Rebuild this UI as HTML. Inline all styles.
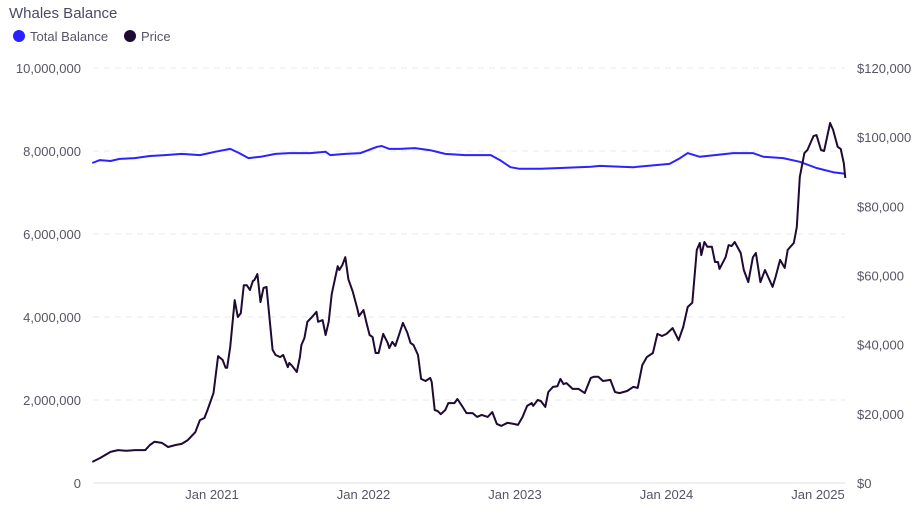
<!DOCTYPE html>
<html><head><meta charset="utf-8"><style>
body{margin:0;background:#fff;font-family:"Liberation Sans",sans-serif;}
svg text{font-family:"Liberation Sans",sans-serif;}
</style></head><body>
<svg id="chart" width="922" height="509" xmlns="http://www.w3.org/2000/svg">
<text x="9" y="18" font-size="15" fill="#4a4a66">Whales Balance</text>
<g>
<g><circle cx="19" cy="36" r="6" fill="#2a22ff"/><text x="30" y="41" font-size="13" fill="#555566">Total Balance</text></g>
<g><circle cx="130" cy="36" r="6" fill="#1e0a33"/><text x="141" y="41" font-size="13" fill="#555566">Price</text></g>
</g>
<g id="grid"></g>
<g id="axes"></g>
<g id="series"></g>
</svg>
<script>
const tickYears=[2021,2022,2023,2024,2025];
const tickLabels=["Jan 2021","Jan 2022","Jan 2023","Jan 2024","Jan 2025"];
const leftTicks=[0,2000000,4000000,6000000,8000000,10000000];
const leftTickLabels=["0","2,000,000","4,000,000","6,000,000","8,000,000","10,000,000"];
const rightTickLabels=["$0","$20,000","$40,000","$60,000","$80,000","$100,000","$120,000"];
const rightTicks=[0,20000,40000,60000,80000,100000,120000];
const priceDates=[2020.21,2020.26,2020.33,2020.38,2020.43,2020.49,2020.56,2020.59,2020.62,2020.67,2020.71,2020.76,2020.80,2020.84,2020.89,2020.92,2020.95,2020.97,2021.01,2021.04,2021.07,2021.09,2021.10,2021.12,2021.15,2021.17,2021.19,2021.21,2021.23,2021.25,2021.27,2021.28,2021.30,2021.32,2021.34,2021.36,2021.40,2021.42,2021.45,2021.47,2021.50,2021.51,2021.53,2021.56,2021.58,2021.59,2021.61,2021.63,2021.66,2021.69,2021.70,2021.73,2021.75,2021.77,2021.79,2021.83,2021.84,2021.86,2021.88,2021.90,2021.93,2021.96,2021.97,2022.00,2022.02,2022.04,2022.06,2022.08,2022.10,2022.13,2022.16,2022.17,2022.19,2022.21,2022.23,2022.26,2022.29,2022.31,2022.33,2022.36,2022.38,2022.41,2022.44,2022.45,2022.47,2022.49,2022.51,2022.54,2022.56,2022.60,2022.62,2022.65,2022.68,2022.72,2022.75,2022.78,2022.82,2022.85,2022.88,2022.91,2022.95,2022.99,2023.02,2023.05,2023.08,2023.11,2023.12,2023.15,2023.17,2023.20,2023.22,2023.25,2023.28,2023.30,2023.32,2023.34,2023.38,2023.42,2023.46,2023.50,2023.52,2023.55,2023.58,2023.63,2023.66,2023.69,2023.74,2023.78,2023.81,2023.84,2023.87,2023.91,2023.94,2023.97,2024.00,2024.04,2024.08,2024.11,2024.14,2024.17,2024.20,2024.22,2024.23,2024.25,2024.27,2024.30,2024.32,2024.34,2024.35,2024.39,2024.41,2024.43,2024.45,2024.49,2024.51,2024.54,2024.57,2024.59,2024.62,2024.65,2024.70,2024.72,2024.75,2024.78,2024.80,2024.84,2024.86,2024.88,2024.91,2024.93,2024.97,2024.99,2025.02,2025.04,2025.08,2025.10,2025.13,2025.15,2025.17,2025.18];
const priceValuesK=[6.1,7.2,9.0,9.5,9.3,9.5,9.5,11.0,11.9,11.6,10.4,11.0,11.3,12.4,14.7,18.2,18.8,21.1,26.0,36.7,35.6,33.3,33.3,39.3,52.9,48.0,49.1,57.2,57.2,55.8,58.4,58.7,60.4,52.3,56.4,56.7,38.5,37.0,36.4,37.0,33.5,34.7,33.8,32.1,36.4,39.9,41.9,46.6,48.0,49.5,46.6,47.1,42.8,46.6,54.6,62.7,61.6,63.0,65.3,58.9,55.2,50.3,48.3,50.0,46.3,42.8,42.2,37.6,37.6,43.1,40.5,39.0,40.8,39.6,42.2,46.3,43.4,40.5,39.9,37.0,30.1,29.5,30.4,29.2,21.1,20.8,19.9,21.1,23.1,23.1,24.3,22.3,20.2,20.2,19.1,19.7,19.1,20.5,17.1,16.5,17.4,17.1,16.8,19.1,22.3,23.1,22.3,24.0,23.7,22.0,26.3,27.8,28.0,30.1,28.6,28.9,27.2,27.2,26.0,30.4,30.7,30.7,29.5,29.8,26.3,26.0,26.6,27.8,27.5,34.1,36.4,37.6,43.1,42.5,43.1,44.8,41.3,45.1,50.9,52.1,67.4,69.4,65.9,69.7,68.3,68.3,63.9,63.9,61.9,65.3,68.8,68.5,69.7,66.5,61.6,58.1,65.3,66.5,58.1,61.6,56.7,59.6,64.5,62.2,67.4,69.4,74.0,88.5,95.4,96.3,100.3,100.6,96.3,96.0,104.1,102.1,97.2,96.6,92.5,88.2];
const balanceDates=[2020.21,2020.26,2020.33,2020.39,2020.49,2020.59,2020.69,2020.80,2020.92,2021.02,2021.12,2021.18,2021.24,2021.32,2021.42,2021.51,2021.65,2021.75,2021.78,2021.88,2021.98,2022.09,2022.12,2022.17,2022.24,2022.34,2022.44,2022.54,2022.67,2022.84,2022.90,2022.97,2023.03,2023.17,2023.30,2023.50,2023.56,2023.78,2024.02,2024.09,2024.14,2024.22,2024.44,2024.57,2024.64,2024.77,2024.88,2024.99,2025.10,2025.18];
const balanceValuesM=[7.71,7.78,7.76,7.81,7.83,7.88,7.90,7.93,7.90,7.98,8.05,7.95,7.83,7.86,7.93,7.95,7.95,7.98,7.90,7.93,7.95,8.10,8.12,8.05,8.05,8.07,8.02,7.93,7.90,7.90,7.78,7.61,7.57,7.57,7.59,7.62,7.64,7.61,7.69,7.83,7.95,7.86,7.95,7.95,7.86,7.83,7.74,7.59,7.49,7.45];

const X0=212, PXY=151.5, Y0=483, H=415, L=93, R=845;
function xS(y){return X0+(y-2021)*PXY;}
function yL(v){return Y0-v/10000000*H;}
function yR(v){return Y0-v/120000*H;}
const NS="http://www.w3.org/2000/svg";
function mk(tag,attrs,parent){const e=document.createElementNS(NS,tag);for(const k in attrs)e.setAttribute(k,attrs[k]);parent.appendChild(e);return e;}
const grid=document.getElementById('grid'), axes=document.getElementById('axes'), series=document.getElementById('series');
leftTicks.forEach((t,i)=>{
  const y=yL(t);
  const ln=mk('line',{x1:L,x2:R,y1:y,y2:y,stroke:i===0?'#e2e2e8':'#e8e8ee','stroke-width':1,'stroke-dasharray':i===0?'none':'6 5'},grid);
  
  
  const tx=mk('text',{x:81,y:y+5,'font-size':13,fill:'#555566','text-anchor':'end'},axes);
  tx.textContent=leftTickLabels[i];
  
  
});
rightTicks.forEach((t,i)=>{
  const tx=mk('text',{x:857,y:yR(t)+5,'font-size':13,fill:'#555566'},axes);
  tx.textContent=rightTickLabels[i];
  
  
});
tickYears.forEach((t,i)=>{
  const tx=mk('text',{x:xS(t),y:499,'font-size':13,fill:'#555566','text-anchor':'middle'},axes);
  tx.textContent=tickLabels[i];
  
  
});
const bp=balanceDates.map((d,i)=>xS(d).toFixed(1)+','+yL(balanceValuesM[i]*1e6).toFixed(1)).join(' ');
const bl=mk('polyline',{points:bp,fill:'none',stroke:'#2a22ff','stroke-width':2,'stroke-linejoin':'round'},series);


const pp=priceDates.map((d,i)=>xS(d).toFixed(1)+','+yR(priceValuesK[i]*1000).toFixed(1)).join(' ');
const pl=mk('polyline',{points:pp,fill:'none',stroke:'#1e0a33','stroke-width':2,'stroke-linejoin':'round'},series);


</script>
</body></html>
